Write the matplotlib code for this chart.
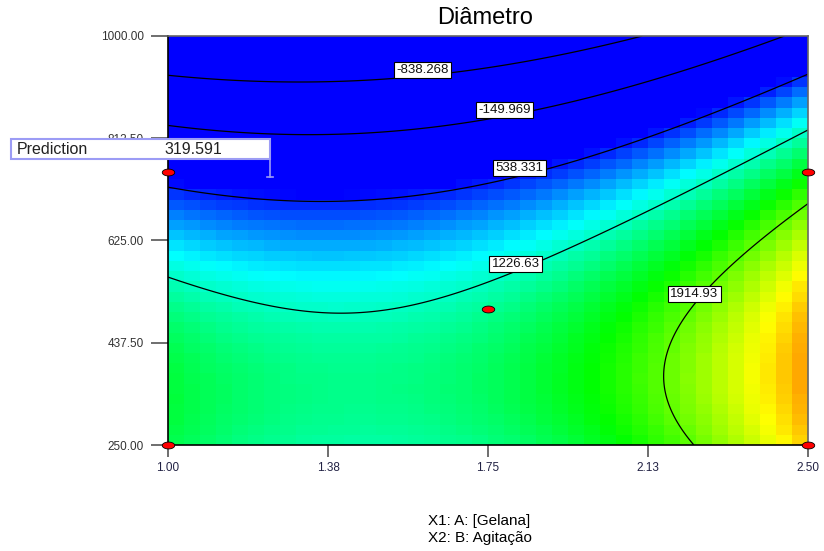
import numpy as np
import matplotlib
matplotlib.use("Agg")
import matplotlib.pyplot as plt
from matplotlib.colors import LinearSegmentedColormap
from matplotlib.patches import Rectangle
from matplotlib.path import Path

plt.rcParams['font.family'] = ['Liberation Sans', 'DejaVu Sans']

# quadratic model in coded units, estimated from the contour lines of the picture
# terms: 1, a, b, ab, a^2, b^2   (a = (A-1.75)/0.75, b = (B-625)/375)
coef = [991.6, 587.2, -1352.0, 134.8, 587.0, -962.6]
levels = [-838.268, -149.969, 538.331, 1226.63, 1914.93]
level_labels = ['-838.268', '-149.969', '538.331', '1226.63', '1914.93']
# where each contour label box sits (A, B)
label_A = [1.597, 1.788, 1.823, 1.815, 2.234]
label_B = [937.7, 864.3, 757.9, 581.9, 526.9]

# design points
design_A = [1.0, 1.0, 1.75, 2.5, 2.5]
design_B = [250, 750, 500, 250, 750]

x_ticks = [1.0, 1.375, 1.75, 2.125, 2.5]
x_ticklabels = ['1.00', '1.38', '1.75', '2.13', '2.50']
y_ticks = [250, 437.5, 625, 812.5, 1000]
y_ticklabels = ['250.00', '437.50', '625.00', '812.50', '1000.00']

pred_value = '319.591'
pred_A, pred_B = 1.239, 741


def model(A, B):
    a = (A - 1.75) / 0.75
    b = (B - 625) / 375
    return (coef[0] + coef[1]*a + coef[2]*b + coef[3]*a*b
            + coef[4]*a**2 + coef[5]*b**2)


fig = plt.figure(figsize=(8.24, 5.51), dpi=100)
ax = fig.add_axes([168/824, 1-445/551, 640/824, 409/551])

# coarse colour cells, like the original software
xe = np.linspace(1.0, 2.5, 41)
ye = np.linspace(250, 1000, 41)
xc = (xe[:-1] + xe[1:]) / 2
yc = (ye[:-1] + ye[1:]) / 2
Z = model(*np.meshgrid(xc, yc))
cmap = LinearSegmentedColormap.from_list(
    'de', ['#0000ff', '#00ffff', '#00ff00', '#ffff00', '#ff0000'])
ax.pcolormesh(xe, ye, Z, cmap=cmap, vmin=470, vmax=2910)

# smooth contour lines
xf = np.linspace(1.0, 2.5, 300)
yf = np.linspace(250, 1000, 300)
ZF = model(*np.meshgrid(xf, yf))
ax.contour(xf, yf, ZF, levels=levels, colors='black', linewidths=0.9,
           linestyles='solid')
for la, lb, s in zip(label_A, label_B, level_labels):
    ax.text(la, lb, s, fontsize=9.5, color='#111111', ha='center', va='center',
            bbox=dict(facecolor='white', edgecolor='black', linewidth=0.8,
                      boxstyle='square,pad=0.18'), zorder=5)

# design points as flat red ellipses
t = np.linspace(0, 2*np.pi, 40)
ellipse = Path(np.column_stack([np.cos(t), 0.55*np.sin(t)]))
ax.plot(design_A, design_B, linestyle='none', marker=ellipse, markersize=9,
        markerfacecolor='red', markeredgecolor='black', markeredgewidth=0.6,
        clip_on=False, zorder=10)

ax.set_xlim(1.0, 2.5)
ax.set_ylim(250, 1000)
ax.set_xticks(x_ticks)
ax.set_xticklabels(x_ticklabels)
ax.set_yticks(y_ticks)
ax.set_yticklabels(y_ticklabels)
ax.tick_params(axis='y', length=12, width=1.2, color='#555555', pad=5.5,
               labelsize=8.5, labelcolor='#333333')
ax.tick_params(axis='x', length=8.5, width=1.2, color='#555555', pad=4,
               labelsize=8.5, labelcolor='#222244')
for side in ['left', 'bottom']:
    ax.spines[side].set_color('black')
    ax.spines[side].set_linewidth(1.2)
for side in ['top', 'right']:
    ax.spines[side].set_color('#666666')
    ax.spines[side].set_linewidth(1.2)

fig.text(485/824, 1-18/551, 'Diâmetro', fontsize=17, ha='center', va='center')
fig.text(428/824, 1-521/551, 'X1: A: [Gelana]', fontsize=11, va='center')
fig.text(428/824, 1-538/551, 'X2: B: Agitação', fontsize=11, va='center')

# prediction flag
fig.add_artist(Rectangle((11/824, 1-159/551), 259/824, 20/551, transform=fig.transFigure,
                         facecolor='white', edgecolor='#9c9cf5', linewidth=1.5, zorder=20))
fig.text(17/824, 1-149/551, 'Prediction', fontsize=11.5, va='center', color='#222222', zorder=21)
fig.text(164/824, 1-149/551, pred_value, fontsize=11.5, va='center', color='#222222', zorder=21)
ax.plot([pred_A, pred_A], [pred_B + 33, pred_B], color='#9c9cf5', linewidth=1.2,
        clip_on=False, zorder=11)
ax.plot([pred_A - 0.008, pred_A + 0.008], [pred_B, pred_B], color='#9c9cf5',
        linewidth=1.2, zorder=11)

fig.savefig('out.png')
